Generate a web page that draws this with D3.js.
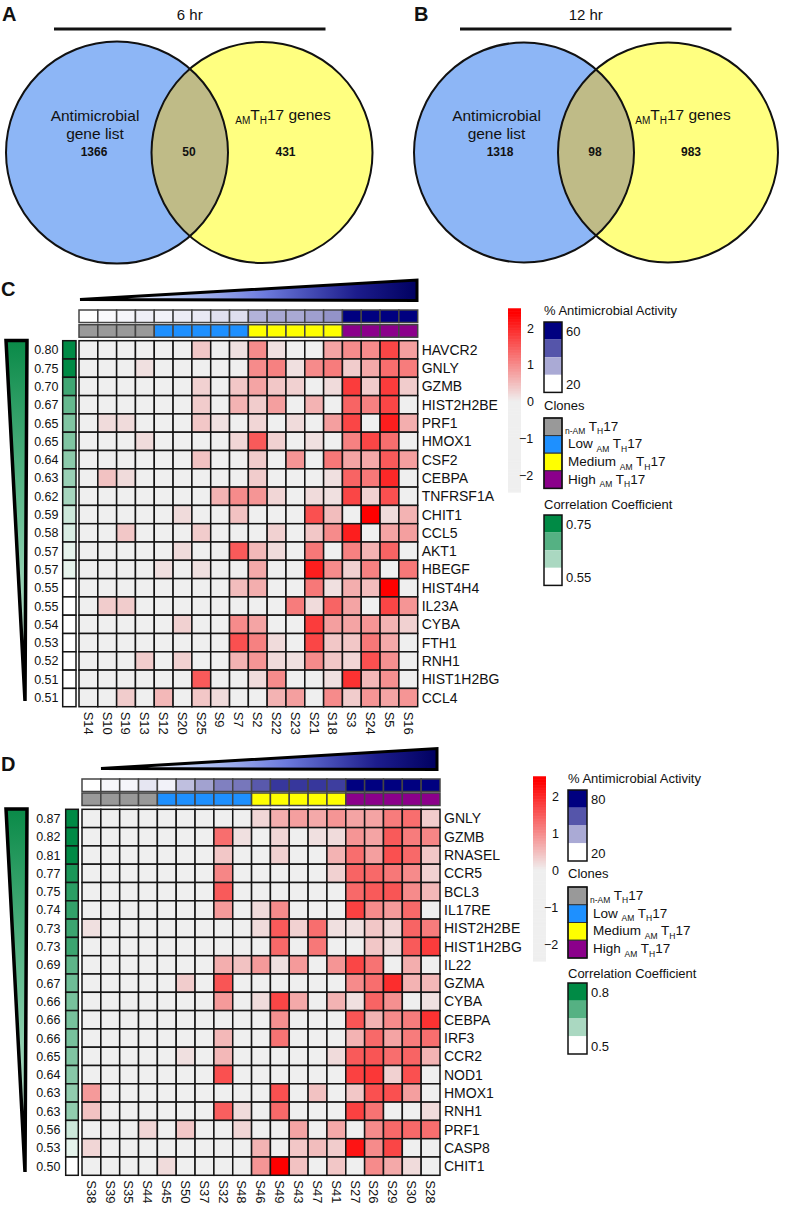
<!DOCTYPE html>
<html><head><meta charset="utf-8">
<script src="https://cdn.jsdelivr.net/npm/d3@7"></script>
<style>body{margin:0;background:#fff}svg{display:block}text{font-family:"Liberation Sans",Arial,sans-serif;fill:#111}</style>
</head><body><script>
// ---------------- DATA ----------------
const vennTimes = ["6 hr", "12 hr"];
const vennCountsA = [1366, 50, 431];
const vennCountsB = [1318, 98, 983];

const samplesC = ["S14","S10","S19","S13","S12","S20","S25","S9","S7","S2","S22","S23","S21","S18","S3","S24","S5","S16"];
const activityC = [20,21,21.5,22.5,22,23,23.5,25,25,32,33.5,33.5,35,37,60,60,60,60];
const clonesC = ["nAM","nAM","nAM","nAM","Low","Low","Low","Low","Low","Med","Med","Med","Med","Med","High","High","High","High"];
const genesC = ["HAVCR2","GNLY","GZMB","HIST2H2BE","PRF1","HMOX1","CSF2","CEBPA","TNFRSF1A","CHIT1","CCL5","AKT1","HBEGF","HIST4H4","IL23A","CYBA","FTH1","RNH1","HIST1H2BG","CCL4"];
const corrC = [0.80,0.75,0.70,0.67,0.65,0.65,0.64,0.63,0.62,0.59,0.58,0.57,0.57,0.55,0.55,0.54,0.53,0.52,0.51,0.51];
const exprC = [
 [0,0,0,0,0,0,0.4,0,0.15,1.0,0.15,0,0,0.75,1.0,1.0,1.7,0.8],
 [0,0,0,0.15,0,0,0,0,0,1.0,1.1,0.15,1.0,1.15,0.35,0.7,1.3,1.15],
 [0,0,0,0,0,0,0.3,0,0.4,0.75,0.4,0.3,0,0.2,1.8,0.35,1.8,0.35],
 [0,0,0,0,0,0,0.35,0,0.6,0.35,0.8,0,0.6,0,1.4,1.1,1.7,0],
 [0,0.2,0.2,0,0,0,0.4,0.15,0,0.25,0,0.2,0,0.8,1.7,0,2.1,0.65],
 [0,0,0,0.2,0,0,0,0,0.25,1.5,0.3,0,0.15,0,1.1,1.7,1.3,0],
 [0,0,0,0,0,0,0.45,0,0,0.35,0,0.9,0,1.2,0.75,0.7,1.5,0.8],
 [0,0.45,0.2,0,0,0,0,0,0,0.35,0,0,0,0.15,1.4,1.2,2.0,0],
 [0,0,0,0,0,0,0,0.6,1.0,0.9,0.25,0,0.2,0.15,1.7,0.3,1.6,0],
 [0,0,0,0,0,0.2,0,0,0.45,0,0,0,1.6,0.5,0,2.4,0.2,0.6],
 [0,0,0.4,0,0,0,0.35,0,0,0,0.3,0,0.4,1.0,2.1,0,0.75,0.8],
 [0,0,0,0,0,0.2,0,0,1.5,0.55,0.2,0,1.2,0,1.1,0.6,1.4,0],
 [0,0,0,0,0.15,0,0.15,0,0,0.7,0,0,2.1,1.0,0.3,1.1,0,1.2],
 [0,0,0,0,0,0,0,0,0.5,0.65,0,0,1.2,0.15,0.65,0.5,2.4,0],
 [0,0.35,0.35,0,0,0,0,0,0,0,0,1.15,0.2,1.4,0.75,0,1.7,0.9],
 [0,0,0,0,0,0.3,0,0,1.0,0.75,0,0,1.8,0.8,0.75,0.9,0.6,0.3],
 [0,0,0,0,0,0,0,0,1.6,1.1,0.2,0,1.7,0.4,0.4,1.2,0.7,0],
 [0,0,0,0.35,0,0.3,0,0,0.6,0.9,0.2,0.15,1.0,0.4,0.25,1.6,0.95,0],
 [0,0,0,0,0,0,1.5,0,0,0.2,1.0,0,0,0.15,1.9,0.55,0.95,0],
 [0,0,0.35,0,0.55,0,0.4,0.2,0,0,0.6,0.8,0,1.0,0.35,0.9,0.75,0.9]
];

const samplesD = ["S38","S39","S35","S44","S45","S50","S37","S32","S48","S46","S49","S43","S47","S41","S27","S26","S29","S30","S28"];
const activityD = [20,22,22.4,26,23,35,42,50,52,59,67,67,67,65.5,80,80,80,80,80];
const clonesD = ["nAM","nAM","nAM","nAM","Low","Low","Low","Low","Low","Med","Med","Med","Med","Med","High","High","High","High","High"];
const genesD = ["GNLY","GZMB","RNASEL","CCR5","BCL3","IL17RE","HIST2H2BE","HIST1H2BG","IL22","GZMA","CYBA","CEBPA","IRF3","CCR2","NOD1","HMOX1","RNH1","PRF1","CASP8","CHIT1"];
const corrD = [0.87,0.82,0.81,0.77,0.75,0.74,0.73,0.73,0.69,0.67,0.66,0.66,0.66,0.65,0.64,0.63,0.63,0.56,0.53,0.50];
const exprD = [
 [0,0,0,0,0,0,0,0,0,0.25,0.65,0.8,0.7,0.9,0.75,0.75,1.15,1.3,0.35],
 [0,0,0,0,0,0,0,1.3,0.15,0,0.25,0,0.15,0.2,0.9,0.75,1.5,1.15,1.05],
 [0,0,0,0,0,0,0,0.4,0,0,0.3,0,0,0.6,1.3,0.8,1.6,1.35,0.4],
 [0,0,0,0,0,0,0,1.05,0,0,0,0,0,0.3,1.4,1.35,1.2,1.0,0.3],
 [0,0,0,0,0,0,0,1.5,0,0,0,0,0,0,1.35,1.5,1.55,1.0,0.55],
 [0,0,0,0,0,0,0,0.85,0,0.2,1.0,0,0,0,1.75,1.0,0.85,1.35,0],
 [0.15,0,0,0,0,0,0,0,0,0.2,1.5,0.3,1.3,0.15,0.15,0.4,0.25,1.4,1.15],
 [0,0,0,0,0,0,0,0,0,0,1.35,0,1.2,0,0,0.4,0.2,1.5,1.8],
 [0,0,0,0,0,0,0,0.65,0.45,0.85,0.15,0.85,0,0.9,1.7,1.25,0,0.65,0],
 [0,0,0,0,0,0.35,0,1.55,0,0,0,0,0,0,1.0,1.3,1.95,0.6,0.55],
 [0,0,0,0,0,0,0,0.85,0,0.2,1.7,0.7,0,0.6,0.15,1.4,0.95,0,0.15],
 [0,0,0,0,0,0,0,0,0,0,0.95,0,0,0,1.55,0.6,1.0,1.15,1.9],
 [0,0,0,0,0,0,0,0.55,0,0,1.25,0,0,0,0.6,1.35,0.75,1.15,1.3],
 [0,0,0,0,0,0.15,0,0.55,0,0,0,0,0,0.2,1.5,1.55,1.3,1.4,0.6],
 [0,0,0,0,0,0,0,1.6,0,0,0,0,0,0,1.75,1.85,0.3,1.6,0],
 [0.85,0,0,0,0,0,0,0,0,0,1.6,0,0.45,0,0.4,1.6,1.6,0.8,0],
 [0.45,0,0,0,0,0,0,1.45,0.2,0,1.35,0,0,0,1.75,1.25,0,0,0.2],
 [0,0,0,0.25,0,0.4,0,0,0.25,0,0,0.75,0,0.7,0,1.0,1.35,1.35,1.3],
 [0.25,0,0,0,0,0,0,0,0,0.6,0,0.4,0.5,0.35,2.2,1.0,1.7,0,0],
 [0,0,0,0,0.2,0,0,0,0,0.9,2.4,0.45,0,0.4,0,1.0,0.7,0.2,0]
];

const cloneKeys = ["nAM","Low","Med","High"];
const cloneColors = ["#999999","#1e90ff","#ffff00","#8b008b"];
const cloneLabels = [
  [["n-AM",true],[" T",false],["H",true],["17",false]],
  [["Low ",false],["AM",true],[" T",false],["H",true],["17",false]],
  [["Medium ",false],["AM",true],[" T",false],["H",true],["17",false]],
  [["High ",false],["AM",true],[" T",false],["H",true],["17",false]]
];
const heatTicks = [2,1,0,-1,-2];

// ---------------- SETUP ----------------
const W = 786, H = 1207;
const svg = d3.select("body").append("svg").attr("width", W).attr("height", H);
const defs = svg.append("defs");
const heatColor = d3.scaleLinear().domain([0, 2.4]).range(["#efefef", "#ff0000"]).clamp(true);
const cloneColor = d3.scaleOrdinal().domain(cloneKeys).range(cloneColors);

function subText(sel, parts, base, sub) {
  let shift = 0;
  parts.forEach(([t, isSub]) => {
    const target = isSub ? 3.5 : 0;
    sel.append("tspan").attr("dy", target - shift).attr("font-size", isSub ? sub : base).text(t);
    shift = target;
  });
}

// ---------------- VENN ----------------
function venn(cfg) {
  const g = svg.append("g");
  const id = "clip" + cfg.key;
  defs.append("clipPath").attr("id", id).append("circle").attr("cx", cfg.lx).attr("cy", cfg.cy).attr("r", cfg.lr);
  g.append("circle").attr("cx", cfg.lx).attr("cy", cfg.cy).attr("r", cfg.lr).attr("fill", "#8db6f6");
  g.append("circle").attr("cx", cfg.rx).attr("cy", cfg.cy).attr("r", cfg.rr).attr("fill", "#ffff80");
  g.append("circle").attr("cx", cfg.rx).attr("cy", cfg.cy).attr("r", cfg.rr).attr("fill", "#bfbb87").attr("clip-path", `url(#${id})`);
  g.append("circle").attr("cx", cfg.lx).attr("cy", cfg.cy).attr("r", cfg.lr).attr("fill", "none").attr("stroke", "#111").attr("stroke-width", 2);
  g.append("circle").attr("cx", cfg.rx).attr("cy", cfg.cy).attr("r", cfg.rr).attr("fill", "none").attr("stroke", "#111").attr("stroke-width", 2);
  g.append("line").attr("x1", cfg.bar[0]).attr("x2", cfg.bar[1]).attr("y1", 29).attr("y2", 29).attr("stroke", "#111").attr("stroke-width", 3);
  g.append("text").attr("x", (cfg.bar[0] + cfg.bar[1]) / 2 + cfg.titleDx).attr("y", 20).attr("text-anchor", "middle").attr("font-size", 15).text(cfg.title);
  g.append("text").attr("x", cfg.letterX).attr("y", 21).attr("font-size", 20).attr("font-weight", "bold").text(cfg.letter);
  const tf = "font-size:15.5px";
  g.append("text").attr("x", cfg.textL).attr("y", 121).attr("text-anchor", "middle").attr("style", tf).text("Antimicrobial");
  g.append("text").attr("x", cfg.textL).attr("y", 139).attr("text-anchor", "middle").attr("style", tf).text("gene list");
  const gt = g.append("text").attr("x", cfg.textR).attr("y", 120).attr("text-anchor", "middle");
  subText(gt, [["AM", true], ["T", false], ["H", true], ["17 genes", false]], 15.5, 10);
  const nums = cfg.counts;
  const nx = [cfg.numL, cfg.numM, cfg.numR];
  nums.forEach((n, i) => {
    g.append("text").attr("x", nx[i]).attr("y", 156).attr("text-anchor", "middle").attr("font-size", 12).attr("font-weight", "bold").text(n);
  });
}
venn({key: "A", lx: 117, rx: 262, cy: 152.5, lr: 111, rr: 110.5, bar: [54, 325.5], title: vennTimes[0], titleDx: 0, letter: "A", letterX: 2,
  textL: 95, textR: 283, counts: vennCountsA, numL: 94, numM: 189, numR: 285.5});
venn({key: "B", lx: 524, rx: 668, cy: 152.5, lr: 110, rr: 110, bar: [460, 731.5], title: vennTimes[1], titleDx: -10, letter: "B", letterX: 414,
  textL: 496.5, textR: 683, counts: vennCountsB, numL: 500, numM: 595, numR: 691});

// ---------------- HEATMAP ----------------
function heatmap(cfg) {
  const g = svg.append("g");
  const x = d3.scaleBand().domain(cfg.samples).range([cfg.x0, cfg.x1]);
  const y = d3.scaleBand().domain(cfg.genes).range([cfg.y0, cfg.y0 + cfg.rowH * cfg.genes.length]);
  const act = d3.scaleLinear().domain(cfg.actDomain).range(["#ffffff", "#000080"]).clamp(true);
  const corr = d3.scaleLinear().domain(cfg.corrDomain).range(["#ffffff", "#008a45"]).clamp(true);
  const stroke = "#141414", sw = 1.5;

  g.append("text").attr("x", 1).attr("y", cfg.letterY).attr("font-size", 20).attr("font-weight", "bold").text(cfg.letter);

  const gid = "tri" + cfg.letter;
  const lg = defs.append("linearGradient").attr("id", gid).attr("x1", 0).attr("x2", 1).attr("y1", 0).attr("y2", 0);
  [[0, "#ffffff"], [0.15, "#eef2ff"], [0.3, "#b4c4f4"], [0.55, "#6c7adc"], [0.82, "#1c1c8c"], [1, "#000060"]]
    .forEach(([o, c]) => lg.append("stop").attr("offset", o).attr("stop-color", c));
  g.append("polygon").attr("points", cfg.tri.map(p => p.join(",")).join(" "))
    .attr("fill", `url(#${gid})`).attr("stroke", "#000").attr("stroke-width", 3).attr("stroke-linejoin", "miter");

  g.selectAll(".act").data(cfg.samples).join("rect")
    .attr("x", d => x(d)).attr("y", cfg.actY).attr("width", x.bandwidth()).attr("height", cfg.annH)
    .attr("fill", (d, i) => act(cfg.activity[i])).attr("stroke", "#444").attr("stroke-width", sw);
  g.selectAll(".clo").data(cfg.samples).join("rect")
    .attr("x", d => x(d)).attr("y", cfg.cloY).attr("width", x.bandwidth()).attr("height", cfg.annH)
    .attr("fill", (d, i) => cloneColor(cfg.clones[i])).attr("stroke", "#444").attr("stroke-width", sw);

  const cid = "gtri" + cfg.letter;
  const cg = defs.append("linearGradient").attr("id", cid).attr("x1", 0).attr("x2", 0).attr("y1", 0).attr("y2", 1);
  [[0, "#0a8a48"], [0.5, "#6cc096"], [1, "#e4f4ea"]].forEach(([o, c]) => cg.append("stop").attr("offset", o).attr("stop-color", c));
  g.append("polygon").attr("points", cfg.gtri.map(p => p.join(",")).join(" "))
    .attr("fill", `url(#${cid})`).attr("stroke", "#000").attr("stroke-width", 3.5).attr("stroke-linejoin", "miter");

  cfg.genes.forEach((gn, i) => {
    g.append("rect").attr("x", cfg.corrX).attr("y", y(gn)).attr("width", cfg.corrW).attr("height", y.bandwidth())
      .attr("fill", corr(cfg.corr[i])).attr("stroke", stroke).attr("stroke-width", sw);
    g.append("text").attr("x", cfg.corrLabelX).attr("y", y(gn) + y.bandwidth() / 2).attr("dy", "0.36em")
      .attr("text-anchor", "end").attr("font-size", 12.5).text(cfg.corr[i].toFixed(2));
    g.append("text").attr("x", cfg.x1 + 4).attr("y", y(gn) + y.bandwidth() / 2).attr("dy", "0.36em")
      .attr("font-size", 14).text(gn);
  });

  cfg.values.forEach((row, r) => {
    row.forEach((v, c) => {
      g.append("rect").attr("x", x(cfg.samples[c])).attr("y", y(cfg.genes[r]))
        .attr("width", x.bandwidth()).attr("height", y.bandwidth())
        .attr("fill", heatColor(v)).attr("stroke", stroke).attr("stroke-width", sw);
    });
  });

  cfg.samples.forEach(s => {
    g.append("text").attr("transform", `translate(${x(s) + x.bandwidth() / 2},${cfg.y0 + cfg.rowH * cfg.genes.length + 5}) rotate(90)`)
      .attr("dy", "0.36em").attr("font-size", 13).text(s);
  });

  const L = cfg.legend;
  const ly = d3.scaleLinear().domain([-2.46, 2.52]).range([L.barBottom, L.barTop]);
  const steps = d3.range(-2.46, 2.52, 0.02);
  g.selectAll(".bar").data(steps).join("rect")
    .attr("x", L.barX).attr("width", 13).attr("y", d => ly(d + 0.02)).attr("height", d => ly(d) - ly(d + 0.02) + 0.6)
    .attr("fill", d => heatColor(d));
  heatTicks.forEach(t => {
    g.append("text").attr("x", L.barX + 19 - (t < 0 ? 8 : 0)).attr("y", ly(t)).attr("dy", "0.36em")
      .attr("font-size", 12.5).text(t < 0 ? "\u2212" + (-t) : t);
  });
  g.append("text").attr("x", L.x).attr("y", L.actTitle).attr("font-size", 13).text("% Antimicrobial Activity");
  const aVals = d3.range(4).map(i => cfg.actDomain[1] - i * (cfg.actDomain[1] - cfg.actDomain[0]) / 3);
  aVals.forEach((v, i) => {
    g.append("rect").attr("x", L.x).attr("y", L.actBox + i * L.boxH).attr("width", L.boxW).attr("height", L.boxH).attr("fill", act(v));
  });
  g.append("rect").attr("x", L.x).attr("y", L.actBox).attr("width", L.boxW).attr("height", 4 * L.boxH)
    .attr("fill", "none").attr("stroke", "#111").attr("stroke-width", 1.5);
  g.append("text").attr("x", L.x + L.boxW + 4).attr("y", L.actBox + 9).attr("dy", "0.36em").attr("font-size", 13).text(cfg.actDomain[1]);
  g.append("text").attr("x", L.x + L.boxW + 4).attr("y", L.actBox + 4 * L.boxH - 8).attr("dy", "0.36em").attr("font-size", 13).text(cfg.actDomain[0]);
  g.append("text").attr("x", L.x).attr("y", L.cloTitle).attr("font-size", 13).text("Clones");
  cloneKeys.forEach((k, i) => {
    g.append("rect").attr("x", L.x).attr("y", L.cloBox + i * L.boxH).attr("width", L.boxW).attr("height", L.boxH)
      .attr("fill", cloneColor(k)).attr("stroke", "#333").attr("stroke-width", 1);
    const t = g.append("text").attr("x", L.x + L.boxW + (i === 0 ? 3 : 6)).attr("y", L.cloBox + i * L.boxH + L.boxH / 2 + 4);
    subText(t, cloneLabels[i], 13.5, 8.5);
  });
  g.append("rect").attr("x", L.x).attr("y", L.cloBox).attr("width", L.boxW).attr("height", 4 * L.boxH)
    .attr("fill", "none").attr("stroke", "#111").attr("stroke-width", 1.5);
  g.append("text").attr("x", L.x).attr("y", L.corTitle).attr("font-size", 13).text("Correlation Coefficient");
  const cVals = d3.range(4).map(i => cfg.corrDomain[1] - i * (cfg.corrDomain[1] - cfg.corrDomain[0]) / 3);
  cVals.forEach((v, i) => {
    g.append("rect").attr("x", L.x).attr("y", L.corBox + i * L.boxH).attr("width", L.boxW).attr("height", L.boxH).attr("fill", corr(v));
  });
  g.append("rect").attr("x", L.x).attr("y", L.corBox).attr("width", L.boxW).attr("height", 4 * L.boxH)
    .attr("fill", "none").attr("stroke", "#111").attr("stroke-width", 1.5);
  g.append("text").attr("x", L.x + L.boxW + 4).attr("y", L.corBox + 9).attr("dy", "0.36em").attr("font-size", 13).text(cfg.corrLabels[0]);
  g.append("text").attr("x", L.x + L.boxW + 4).attr("y", L.corBox + 4 * L.boxH - 8).attr("dy", "0.36em").attr("font-size", 13).text(cfg.corrLabels[1]);
}

heatmap({
  letter: "C", letterY: 296,
  samples: samplesC, genes: genesC, corr: corrC, values: exprC, activity: activityC, clones: clonesC,
  actDomain: [20, 60], corrDomain: [0.55, 0.75], corrLabels: ["0.75", "0.55"],
  x0: 79, x1: 417.7, y0: 340.7, rowH: 18.3,
  actY: 310, cloY: 324.7, annH: 12.5,
  corrX: 62.7, corrW: 13.3, corrLabelX: 58.5,
  tri: [[80, 299.5], [417, 280], [417, 300.5]],
  gtri: [[6, 340.5], [27, 340.5], [25, 701]],
  legend: {barX: 508, barTop: 309, barBottom: 492, x: 544, boxW: 18, boxH: 17.6,
    actTitle: 315, actBox: 322, cloTitle: 410, cloBox: 418, corTitle: 509, corBox: 515}
});

heatmap({
  letter: "D", letterY: 771,
  samples: samplesD, genes: genesD, corr: corrD, values: exprD, activity: activityD, clones: clonesD,
  actDomain: [20, 80], corrDomain: [0.5, 0.8], corrLabels: ["0.8", "0.5"],
  x0: 82, x1: 440, y0: 809.3, rowH: 18.3,
  actY: 779, cloY: 793, annH: 12.5,
  corrX: 65.7, corrW: 12.6, corrLabelX: 60.5,
  tri: [[101, 768.5], [437, 748.5], [437, 769.5]],
  gtri: [[6, 809], [27, 809], [25, 1172]],
  legend: {barX: 533, barTop: 777, barBottom: 961, x: 568, boxW: 19, boxH: 17.75,
    actTitle: 783, actBox: 790, cloTitle: 878, cloBox: 887, corTitle: 978, corBox: 983}
});
</script></body></html>
